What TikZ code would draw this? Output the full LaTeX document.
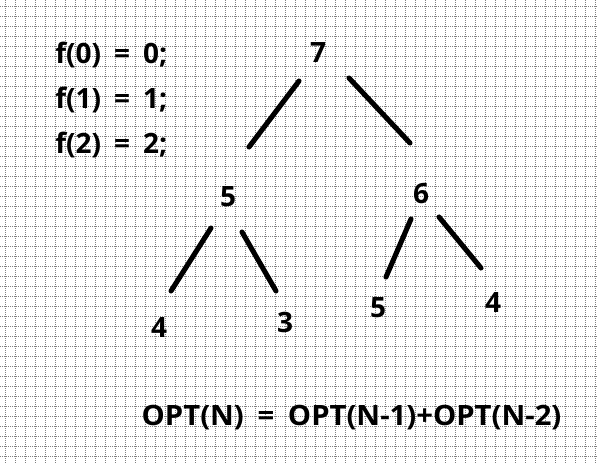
\documentclass[tikz,border=0pt]{standalone}
\usepackage{fontspec}
\setmainfont{Open Sans}[WordSpace=1.8]
\begin{document}
\begin{tikzpicture}[x=0.75pt,y=-0.75pt,
  gridline/.style={draw=gray, line width=0.75pt, dash pattern=on 0.75pt off 0.75pt},
  lbl/.style={inner sep=0pt, font=\fontsize{21}{25}\selectfont\bfseries},
  num/.style={lbl, anchor=base},
  eq/.style={lbl, anchor=base west},
  edge/.style={line width=3.8pt, line cap=round}]
\useasboundingbox (0,0) rectangle (598,464);
\fill[white] (0,0) rectangle (598,464);
\foreach \x in {5,15,...,595} \draw[gridline] (\x,0) -- (\x,464);
\foreach \y in {6,16,...,456} \draw[gridline] (0,\y) -- (598,\y);

\node[eq] (f0) at (55,63) {f(0) = 0;};
\node[eq] (f1) at (55,108) {f(1) = 1;};
\node[eq] (f2) at (55,153) {f(2) = 2;};

\node[num] (n7) at (318,62) {7};
\node[num] (n5) at (228,206) {5};
\node[num] (n6) at (421,203) {6};
\node[num] (n4a) at (159,337) {4};
\node[num] (n3) at (285,332) {3};
\node[num] (n5b) at (378,317) {5};
\node[num] (n4b) at (493,312) {4};

\node[lbl, anchor=base, xscale=1.045, transform shape] (opt) at (351.5,425) {OPT(N) = OPT(N-1)+OPT(N-2)};

\coordinate (a1) at (299,81);  \coordinate (a2) at (249,147);
\coordinate (b1) at (349,78);  \coordinate (b2) at (410,143);
\coordinate (c1) at (211,228); \coordinate (c2) at (171,291);
\coordinate (d1) at (242,232); \coordinate (d2) at (276,291);
\coordinate (e1) at (411,219); \coordinate (e2) at (386,277);
\coordinate (g1) at (439,217); \coordinate (g2) at (481,268);
\draw[edge] (a1) -- (a2);
\draw[edge] (b1) -- (b2);
\draw[edge] (c1) -- (c2);
\draw[edge] (d1) -- (d2);
\draw[edge] (e1) -- (e2);
\draw[edge] (g1) -- (g2);
\end{tikzpicture}
\end{document}
